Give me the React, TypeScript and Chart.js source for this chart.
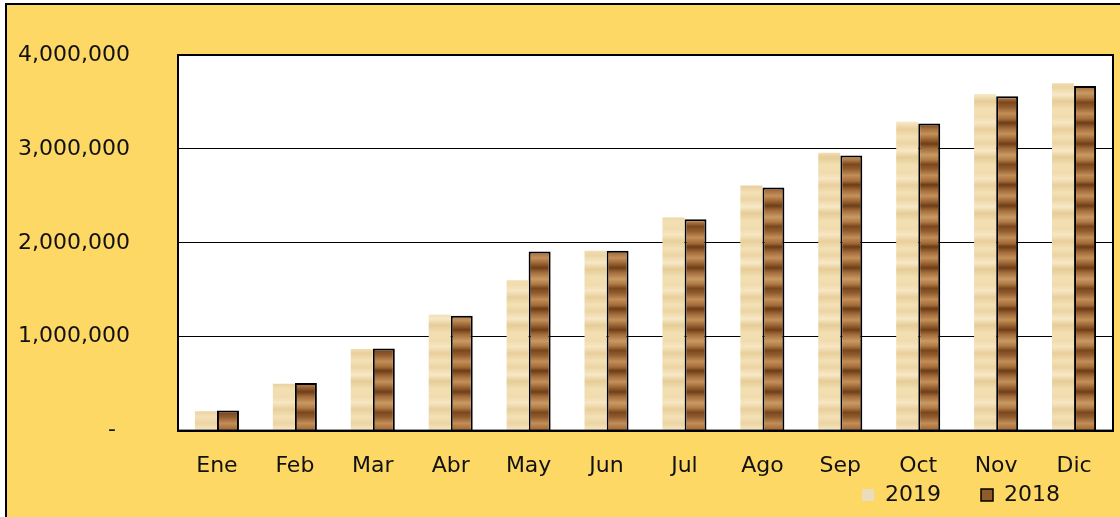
import React, { useEffect, useRef } from 'react';
import { Chart, registerables } from 'chart.js';

Chart.register(...registerables);

const months = ['Ene', 'Feb', 'Mar', 'Abr', 'May', 'Jun', 'Jul', 'Ago', 'Sep', 'Oct', 'Nov', 'Dic'];
const series2019 = [205000, 500000, 870000, 1234000, 1600000, 1915000, 2270000, 2610000, 2960000, 3290000, 3585000, 3700000];
const series2018 = [213000, 507000, 875000, 1223000, 1907000, 1915000, 2250000, 2590000, 2930000, 3270000, 3560000, 3670000];
const yTicks = [0, 1000000, 2000000, 3000000, 4000000];
const seriesLabels = ['2019', '2018'];

const FONT = '"DejaVu Sans", sans-serif';
const TEXT = '#111111';
const FS = 22;

function makeTexture(stops: [number, string][], height: number) {
  const c = document.createElement('canvas');
  c.width = 4;
  c.height = height;
  const ctx = c.getContext('2d')!;
  const g = ctx.createLinearGradient(0, 0, 0, height);
  stops.forEach(([o, col]) => g.addColorStop(o, col));
  ctx.fillStyle = g;
  ctx.fillRect(0, 0, 4, height);
  return ctx.createPattern(c, 'repeat')!;
}

const plotFrame = {
  id: 'plotFrame',
  beforeDraw(chart: any) {
    const { ctx, chartArea: a } = chart;
    ctx.save();
    ctx.fillStyle = '#ffffff';
    ctx.fillRect(a.left, a.top, a.right - a.left, a.bottom - a.top);
    ctx.restore();
  },
  afterLayout(chart: any) {
    if (chart.legend) {
      chart.legend.left -= 48;
      chart.legend.right -= 48;
    }
  },
  afterDraw(chart: any) {
    const { ctx, chartArea: a } = chart;
    ctx.save();
    ctx.strokeStyle = '#000';
    ctx.lineWidth = 2;
    ctx.strokeRect(a.left, a.top, a.right - a.left, a.bottom - a.top);
    ctx.restore();
  },
};

export default function App() {
  const ref = useRef<HTMLCanvasElement | null>(null);

  useEffect(() => {
    document.body.style.margin = '0';
    const light = makeTexture(
      [
        [0, '#f0dcae'], [0.1, '#f6e6c2'], [0.22, '#e8cf9b'], [0.35, '#f3e0b6'],
        [0.47, '#ecd5a4'], [0.6, '#f7e8c6'], [0.72, '#e6cc96'], [0.86, '#f2dfb3'], [1, '#f0dcae'],
      ],
      56
    );
    const dark = makeTexture(
      [
        [0, '#a8703e'], [0.08, '#c4915a'], [0.17, '#9a6232'], [0.24, '#6e3e17'], [0.31, '#a06a38'],
        [0.42, '#c99a64'], [0.5, '#b07a45'], [0.57, '#7a471d'], [0.64, '#8f5a2c'], [0.75, '#c28d57'],
        [0.84, '#a46c3a'], [0.9, '#6c3c16'], [1, '#a8703e'],
      ],
      62
    );

    const chart = new Chart(ref.current!, {
      type: 'bar',
      data: {
        labels: months,
        datasets: [
          {
            label: seriesLabels[0],
            data: series2019,
            backgroundColor: light,
            borderWidth: 0,
          },
          {
            label: seriesLabels[1],
            data: series2018,
            backgroundColor: dark,
            borderColor: '#000',
            borderWidth: 2,
          },
        ],
      },
      options: {
        responsive: false,
        animation: false,
        devicePixelRatio: 1,
        layout: { padding: { top: 50, left: 0, right: 7, bottom: 1 } },
        datasets: { bar: { categoryPercentage: 0.565, barPercentage: 1 } },
        scales: {
          x: {
            grid: { display: false, drawTicks: false },
            border: { display: true, color: '#000', width: 2 },
            ticks: { color: TEXT, font: { family: FONT, size: FS }, padding: 22, maxRotation: 0 },
            afterFit: (s: any) => {
              s.height = 48.4;
            },
          },
          y: {
            min: 0,
            max: 4000000,
            grid: { color: '#000', lineWidth: 1, drawTicks: true, tickLength: 48, tickColor: 'rgba(0,0,0,0)' },
            border: { display: true, color: '#000', width: 2 },
            afterBuildTicks: (s: any) => {
              s.ticks = yTicks.map((v) => ({ value: v }));
            },
            ticks: {
              color: TEXT,
              font: { family: FONT, size: FS },
              padding: 0,
              callback: (v: any) => (Number(v) === 0 ? '-  ' : Number(v).toLocaleString('en-US')),
            },
            afterFit: (s: any) => {
              s.width = 171;
            },
          },
        },
        plugins: {
          title: { display: false },
          tooltip: { enabled: false },
          legend: {
            position: 'bottom',
            align: 'end',
            labels: {
              color: TEXT,
              font: { family: FONT, size: FS },
              boxWidth: 12,
              boxHeight: 12,
              padding: 5,
              generateLabels: (chart: any) => {
                const items = Chart.defaults.plugins.legend.labels.generateLabels(chart);
                items.forEach((it: any, i: number) => {
                  if (i === 0) {
                    it.text = it.text + '     ';
                    it.fillStyle = 'rgba(232,222,200,0.9)';
                    it.strokeStyle = 'rgba(0,0,0,0)';
                    it.lineWidth = 0;
                  } else {
                    it.fillStyle = '#8f5a2c';
                    it.strokeStyle = '#000';
                    it.lineWidth = 1.5;
                  }
                });
                return items;
              },
            },
          },
        },
      },
      plugins: [plotFrame],
    } as any);

    return () => chart.destroy();
  }, []);

  return (
    <div style={{ position: 'absolute', left: 0, top: 0, width: 1120, height: 517, background: '#fff', overflow: 'hidden' }}>
      <div
        style={{
          position: 'absolute',
          left: 5,
          top: 3,
          width: 1125,
          height: 520,
          background: '#fed865',
          borderLeft: '2px solid #000',
          borderTop: '2px solid #000',
        }}
      >
        <canvas ref={ref} width={1113} height={512} style={{ display: 'block', width: 1113, height: 512 }} />
      </div>
    </div>
  );
}
